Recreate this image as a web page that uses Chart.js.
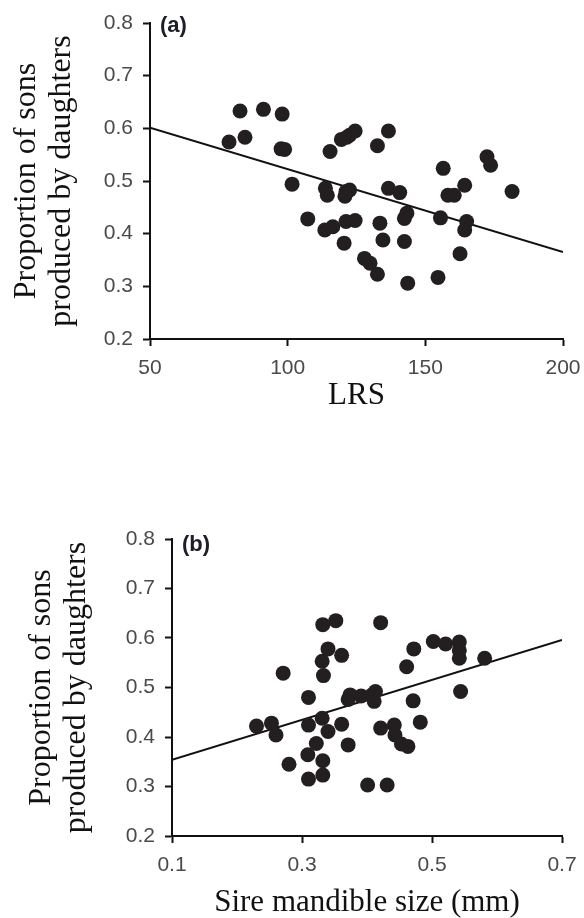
<!DOCTYPE html>
<html>
<head>
<meta charset="utf-8">
<script src="https://cdn.jsdelivr.net/npm/chart.js@4.4.1/dist/chart.umd.min.js"></script>
<style>
  body { margin: 0; background: #fff; }
  #wrap { position: relative; width: 584px; height: 918px; }
  canvas { position: absolute; left: 0; }
  #grafica-a { top: 0; }
  #grafica-b { top: 460px; }
</style>
</head>
<body>
<div id="wrap">
  <canvas id="grafica-a" width="584" height="420"></canvas>
  <canvas id="grafica-b" width="584" height="458"></canvas>
</div>
<script>
// panel (a): LRS vs proportion of sons
const lrs = [78.7, 82.7, 84.5, 91.2, 98, 97.6, 98.9, 101.6, 107.3, 113.7, 114.4, 113.5, 116.4, 115.4, 119.5,
    121.2, 122.5, 120.8, 120.5, 121.2, 124.5, 122.5, 124.5, 121.5, 127.9, 129.9, 132.6, 132.6, 133.5, 134.6,
    136.6, 136.6, 140.7, 142.4, 142.4, 143.3, 143.6, 154.6, 155.5, 156.5, 158.2, 160.5, 164.3, 162.6, 165,
    164.3, 172.4, 173.7, 181.5]
const sonsA = [0.574, 0.633, 0.583, 0.636, 0.627, 0.561, 0.560, 0.494, 0.428, 0.486, 0.473, 0.407, 0.413, 0.556, 0.579,
    0.480, 0.483, 0.471, 0.382, 0.423, 0.425, 0.587, 0.595, 0.583, 0.353, 0.344, 0.323, 0.567, 0.420, 0.388,
    0.595, 0.486, 0.478, 0.385, 0.429, 0.439, 0.306, 0.317, 0.430, 0.524, 0.473, 0.473, 0.492, 0.362, 0.423,
    0.407, 0.546, 0.530, 0.480]
const fitAx = [50, 200]
const fitAy = [0.601, 0.365]

// panel (b): sire mandible size vs proportion of sons
const mandible = [0.230, 0.253, 0.260, 0.271, 0.280, 0.310, 0.310, 0.309, 0.310, 0.322, 0.332, 0.332, 0.331, 0.340,
    0.333, 0.331, 0.340, 0.332, 0.352, 0.361, 0.361, 0.371, 0.371, 0.374, 0.391, 0.408, 0.413, 0.411, 0.401,
    0.431, 0.421, 0.421, 0.442, 0.443, 0.453, 0.463, 0.461, 0.472, 0.471, 0.482, 0.502, 0.521, 0.542, 0.542,
    0.542, 0.544, 0.581]
const sonsB = [0.422, 0.428, 0.404, 0.529, 0.345, 0.480, 0.424, 0.364, 0.315, 0.387, 0.352, 0.323, 0.438, 0.411,
    0.524, 0.553, 0.578, 0.627, 0.635, 0.565, 0.426, 0.384, 0.476, 0.485, 0.483, 0.485, 0.492, 0.472, 0.303,
    0.303, 0.631, 0.418, 0.424, 0.404, 0.386, 0.381, 0.542, 0.578, 0.473, 0.430, 0.593, 0.588, 0.592, 0.575,
    0.559, 0.492, 0.559]
const fitBx = [0.1, 0.7]
const fitBy = [0.354, 0.596]

const yTitle = ['Proportion of sons', 'produced by daughters']
const yTicks = [0.2, 0.8, 0.1]

const tinta = '#111111'
const punto = '#231f20'

const etiqueta = {
    id: 'etiqueta',
    afterDraw(chart, args, opts) {
        const { ctx, chartArea } = chart
        ctx.save()
        ctx.font = 'bold 22px "Liberation Sans"'
        ctx.fillStyle = '#1d1d2b'
        ctx.textBaseline = 'middle'
        ctx.fillText(opts.text, chartArea.left + opts.dx, chartArea.top + opts.dy)
        ctx.restore()
    }
}

function puntos(xs, ys) {
    return xs.map((x, i) => ({ x: x, y: ys[i] }))
}

function config(o) {
    return {
        type: 'scatter',
        data: {
            datasets: [
                {
                    data: puntos(o.xs, o.ys),
                    backgroundColor: punto,
                    borderWidth: 0,
                    pointRadius: 7.5,
                    pointHoverRadius: 7.5
                },
                {
                    type: 'line',
                    data: puntos(o.fx, o.fy),
                    borderColor: tinta,
                    borderWidth: 2,
                    pointRadius: 0,
                    fill: false
                }
            ]
        },
        options: {
            responsive: false,
            animation: false,
            devicePixelRatio: 1,
            layout: { padding: { top: o.top, right: o.right, left: 0, bottom: 0 } },
            plugins: {
                legend: { display: false },
                tooltip: { enabled: false },
                etiqueta: { text: o.label, dx: 10, dy: o.labelDy }
            },
            scales: {
                x: {
                    type: 'linear',
                    min: o.xTicks[0],
                    max: o.xTicks[1],
                    afterFit(scale) {
                        scale.height = o.xHeight
                        scale.paddingLeft = 0
                        scale.paddingRight = 0
                    },
                    border: { color: tinta, width: 2 },
                    grid: { drawOnChartArea: false, tickLength: 7, tickColor: tinta, tickWidth: 2 },
                    ticks: {
                        stepSize: o.xTicks[2],
                        padding: 10,
                        color: '#4a4a4a',
                        font: { family: 'Liberation Sans', size: 21 },
                        callback: v => o.xFmt(v)
                    },
                    title: {
                        display: true,
                        text: o.xTitle,
                        color: tinta,
                        font: { family: 'Liberation Serif', size: 31, lineHeight: 1 },
                        padding: { top: 0, bottom: o.xTitlePad }
                    }
                },
                y: {
                    min: yTicks[0],
                    max: yTicks[1],
                    afterFit(scale) {
                        scale.width = o.yWidth
                        scale.paddingTop = 0
                        scale.paddingBottom = 0
                    },
                    border: { color: tinta, width: 2 },
                    grid: { drawOnChartArea: false, tickLength: 7, tickColor: tinta, tickWidth: 2 },
                    ticks: {
                        stepSize: yTicks[2],
                        padding: 10,
                        color: '#4a4a4a',
                        font: { family: 'Liberation Sans', size: 21 },
                        callback: v => v.toFixed(1)
                    },
                    title: {
                        display: true,
                        text: yTitle,
                        color: tinta,
                        font: { family: 'Liberation Serif', size: 32, lineHeight: 1.1 },
                        padding: { top: o.yTitlePad, bottom: 0 }
                    }
                }
            }
        },
        plugins: [etiqueta]
    }
}

const grafA = new Chart(document.getElementById('grafica-a'), config({
    xs: lrs, ys: sonsA, fx: fitAx, fy: fitAy,
    xTicks: [50, 200, 50], xFmt: v => String(v),
    xTitle: 'LRS', label: '(a)', labelDy: 3,
    top: 23, right: 21, yWidth: 150, xHeight: 81,
    xTitlePad: 9, yTitlePad: 9
}))

const grafB = new Chart(document.getElementById('grafica-b'), config({
    xs: mandible, ys: sonsB, fx: fitBx, fy: fitBy,
    xTicks: [0.1, 0.7, 0.2], xFmt: v => v.toFixed(1),
    xTitle: 'Sire mandible size (mm)', label: '(b)', labelDy: 6,
    top: 79, right: 22, yWidth: 172, xHeight: 82,
    xTitlePad: 0, yTitlePad: 24
}))
</script>
</body>
</html>
